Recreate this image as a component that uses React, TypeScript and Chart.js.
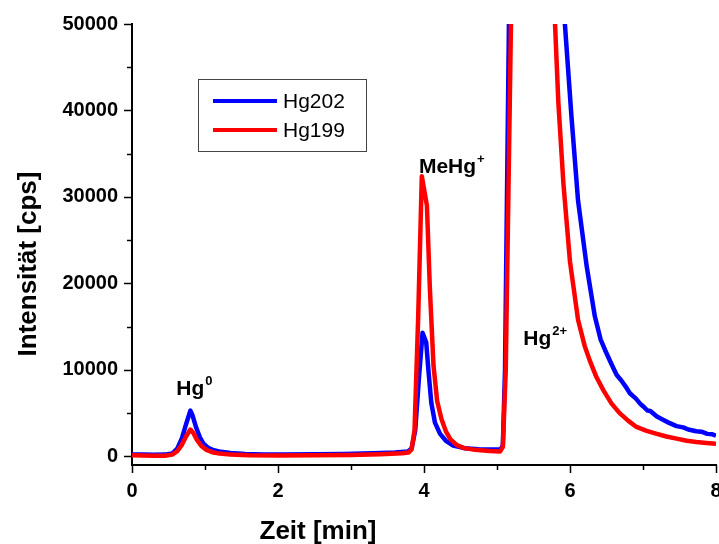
import React, { useEffect, useRef } from "react";
import { Chart, registerables } from "chart.js";

Chart.register(...registerables);

// ---- data ----
const hg202Time = [
  0.0, 0.15, 0.3, 0.45, 0.55, 0.62, 0.68, 0.74, 0.8, 0.83, 0.88, 0.93, 0.98, 1.05, 1.12, 1.22, 1.35, 1.55, 1.8,
  2.1, 2.5, 2.9, 3.3, 3.6, 3.78, 3.83, 3.88, 3.93, 3.98, 4.03, 4.06, 4.1, 4.15, 4.22, 4.3, 4.4, 4.55, 4.75, 4.95,
  5.05, 5.08, 5.11, 5.17, 5.5, 5.93, 6.02, 6.11, 6.23, 6.34, 6.42, 6.48, 6.55, 6.6, 6.64, 6.7, 6.76, 6.82, 6.9,
  6.96, 7.0, 7.06, 7.1, 7.19, 7.28, 7.35, 7.46, 7.55, 7.62, 7.73, 7.8, 7.88, 7.95, 8.0,
];
const hg202Counts = [
  200, 220, 180, 200, 330, 900, 2000, 3700, 5300, 4700, 3300, 2200, 1450, 950, 700, 520, 380, 280, 220,
  200, 230, 280, 350, 450, 560, 900, 3000, 9000, 14300, 13200, 10000, 6200, 3900, 2600, 1800, 1250, 950, 820, 800,
  780, 1300, 10000, 55000, 300000, 50000, 39300, 29600, 21900, 16200, 13500, 12300, 11000, 10100, 9400, 8800, 8100, 7300, 6700,
  6100, 5800, 5300, 5250, 4600, 4200, 3900, 3500, 3350, 3100, 2900, 2850, 2600, 2550, 2400,
];
const hg199Time = [
  0.0, 0.15, 0.3, 0.45, 0.55, 0.62, 0.68, 0.74, 0.8, 0.84, 0.89, 0.95, 1.02, 1.1, 1.2, 1.35, 1.6, 2.0, 2.5,
  3.0, 3.4, 3.7, 3.79, 3.83, 3.87, 3.92, 3.97, 4.04, 4.08, 4.13, 4.18, 4.24, 4.3, 4.36, 4.45, 4.55, 4.7, 4.9,
  5.04, 5.08, 5.12, 5.2, 5.5, 5.795, 5.84, 5.91, 6.0, 6.11, 6.2, 6.27, 6.36, 6.46, 6.57, 6.68, 6.8, 6.91, 7.05,
  7.19, 7.32, 7.46, 7.6, 7.73, 7.87, 8.0,
];
const hg199Counts = [
  120, 100, 60, 80, 200, 600, 1300, 2300, 3100, 2700, 1900, 1200, 750, 480, 320, 200, 130, 100, 120,
  170, 250, 350, 450, 800, 3000, 16000, 32400, 29000, 19500, 10500, 6400, 4300, 2900, 2000, 1300, 950, 750, 620,
  550, 1100, 10000, 55000, 300000, 50000, 41000, 31500, 22500, 15800, 12800, 11100, 9200, 7600, 6100, 5000, 4100, 3400, 2950,
  2600, 2300, 2050, 1800, 1650, 1550, 1450,
];
const seriesNames = ["Hg202", "Hg199"];
const xMajorTicks = [0, 2, 4, 6, 8];
const xMinorTicks = [1, 3, 5, 7];
const yMajorTicks = [0, 10000, 20000, 30000, 40000, 50000];
const yMinorTicks = [5000, 15000, 25000, 35000, 45000];
const xTitle = "Zeit [min]";
const yTitle = "Intensität [cps]";
const peakNames = ["Hg", "MeHg", "Hg"];
const peakCharges = ["0", "+", "2+"];

const FONT = "'Liberation Sans', Arial, Helvetica, sans-serif";
const BLUE = "#0000ff";
const RED = "#ff0000";

const toPoints = (t: number[], v: number[]) => t.map((x, i) => ({ x, y: v[i] }));

const decorPlugin = {
  id: "decor",
  afterDraw(chart: any) {
    const ctx = chart.ctx as CanvasRenderingContext2D;
    const xs = chart.scales.x;
    const ys = chart.scales.y;
    const area = chart.chartArea;
    ctx.save();
    // tick marks
    ctx.strokeStyle = "#000";
    ctx.lineWidth = 1.5;
    ctx.beginPath();
    xMajorTicks.forEach((v) => {
      const px = Math.round(xs.getPixelForValue(v)) + 0.5;
      ctx.moveTo(px, area.bottom);
      ctx.lineTo(px, area.bottom + 8);
    });
    xMinorTicks.forEach((v) => {
      const px = Math.round(xs.getPixelForValue(v)) + 0.5;
      ctx.moveTo(px, area.bottom);
      ctx.lineTo(px, area.bottom + 5);
    });
    yMajorTicks.forEach((v) => {
      const py = Math.round(ys.getPixelForValue(v)) + 0.5;
      ctx.moveTo(area.left, py);
      ctx.lineTo(area.left - 8, py);
    });
    yMinorTicks.forEach((v) => {
      const py = Math.round(ys.getPixelForValue(v)) + 0.5;
      ctx.moveTo(area.left, py);
      ctx.lineTo(area.left - 5, py);
    });
    ctx.stroke();

    // axis titles
    ctx.fillStyle = "#000";
    ctx.font = `bold 26px ${FONT}`;
    ctx.textAlign = "center";
    ctx.textBaseline = "alphabetic";
    ctx.fillText(xTitle, 318, 539);
    ctx.save();
    ctx.translate(36, 264);
    ctx.rotate(-Math.PI / 2);
    ctx.fillText(yTitle, 0, 0);
    ctx.restore();

    // peak annotations (anchored in data coordinates)
    const anchors = [
      [0.606, 7060],
      [3.93, 32750],
      [5.36, 12850],
    ];
    ctx.textAlign = "left";
    peakNames.forEach((name, i) => {
      const px = xs.getPixelForValue(anchors[i][0]);
      const py = ys.getPixelForValue(anchors[i][1]);
      ctx.font = `bold 21px ${FONT}`;
      ctx.fillText(name, px, py);
      const w = ctx.measureText(name).width;
      ctx.font = `bold 13px ${FONT}`;
      ctx.fillText(peakCharges[i], px + w + 1, py - 10);
    });

    // legend
    ctx.strokeStyle = "#444";
    ctx.lineWidth = 1;
    ctx.strokeRect(198.5, 79.5, 168, 72);
    const colors = [BLUE, RED];
    const rows = [101, 130];
    ctx.font = `21px ${FONT}`;
    ctx.textBaseline = "middle";
    seriesNames.forEach((n, i) => {
      ctx.strokeStyle = colors[i];
      ctx.lineWidth = 4;
      ctx.beginPath();
      ctx.moveTo(213, rows[i]);
      ctx.lineTo(277, rows[i]);
      ctx.stroke();
      ctx.fillStyle = "#000";
      ctx.fillText(n, 283, rows[i] + 1);
    });
    ctx.restore();
  },
};

export default function App() {
  const ref = useRef<HTMLCanvasElement | null>(null);
  useEffect(() => {
    if (!ref.current) return;
    const tickFont = { family: FONT, size: 20, weight: "bold" as const };
    const chart = new Chart(ref.current, {
      type: "line",
      data: {
        datasets: [
          {
            label: seriesNames[0],
            data: toPoints(hg202Time, hg202Counts),
            borderColor: BLUE,
            borderWidth: 4.5,
            pointRadius: 0,
            tension: 0,
            borderJoinStyle: "round",
            order: 2,
          },
          {
            label: seriesNames[1],
            data: toPoints(hg199Time, hg199Counts),
            borderColor: RED,
            borderWidth: 4.5,
            pointRadius: 0,
            tension: 0,
            borderJoinStyle: "round",
            order: 1,
          },
        ],
      },
      options: {
        responsive: false,
        maintainAspectRatio: false,
        animation: false,
        devicePixelRatio: 1,
        layout: { padding: { top: 24, right: 3, left: 0, bottom: 0 } },
        plugins: { legend: { display: false }, tooltip: { enabled: false }, title: { display: false } },
        scales: {
          x: {
            type: "linear",
            min: 0,
            max: 8,
            afterBuildTicks: (s: any) => {
              s.ticks = xMajorTicks.map((v) => ({ value: v }));
            },
            afterFit: (s: any) => {
              s.height = 79;
              s.paddingLeft = 0;
              s.paddingRight = 0;
            },
            grid: { display: true, drawOnChartArea: false, drawTicks: true, tickLength: 8, color: "rgba(0,0,0,0)" },
            border: { display: true, color: "#000", width: 2 },
            ticks: {
              font: tickFont,
              color: "#000",
              padding: 6,
              maxRotation: 0,
              autoSkip: false,
              callback: (v: any) => String(v),
            },
          },
          y: {
            type: "linear",
            min: -1000,
            max: 50000,
            afterBuildTicks: (s: any) => {
              s.ticks = yMajorTicks.map((v) => ({ value: v }));
            },
            afterFit: (s: any) => {
              s.width = 132;
              s.paddingTop = 0;
              s.paddingBottom = 0;
            },
            grid: { display: true, drawOnChartArea: false, drawTicks: true, tickLength: 8, color: "rgba(0,0,0,0)" },
            border: { display: true, color: "#000", width: 2 },
            ticks: {
              font: tickFont,
              color: "#000",
              padding: 6,
              autoSkip: false,
              callback: (v: any) => String(v),
            },
          },
        },
      },
      plugins: [decorPlugin],
    });
    return () => chart.destroy();
  }, []);
  return (
    <div style={{ position: "absolute", left: 0, top: 0, width: 719, height: 544, background: "#fff" }}>
      <canvas ref={ref} width={719} height={544} style={{ display: "block" }} />
    </div>
  );
}
